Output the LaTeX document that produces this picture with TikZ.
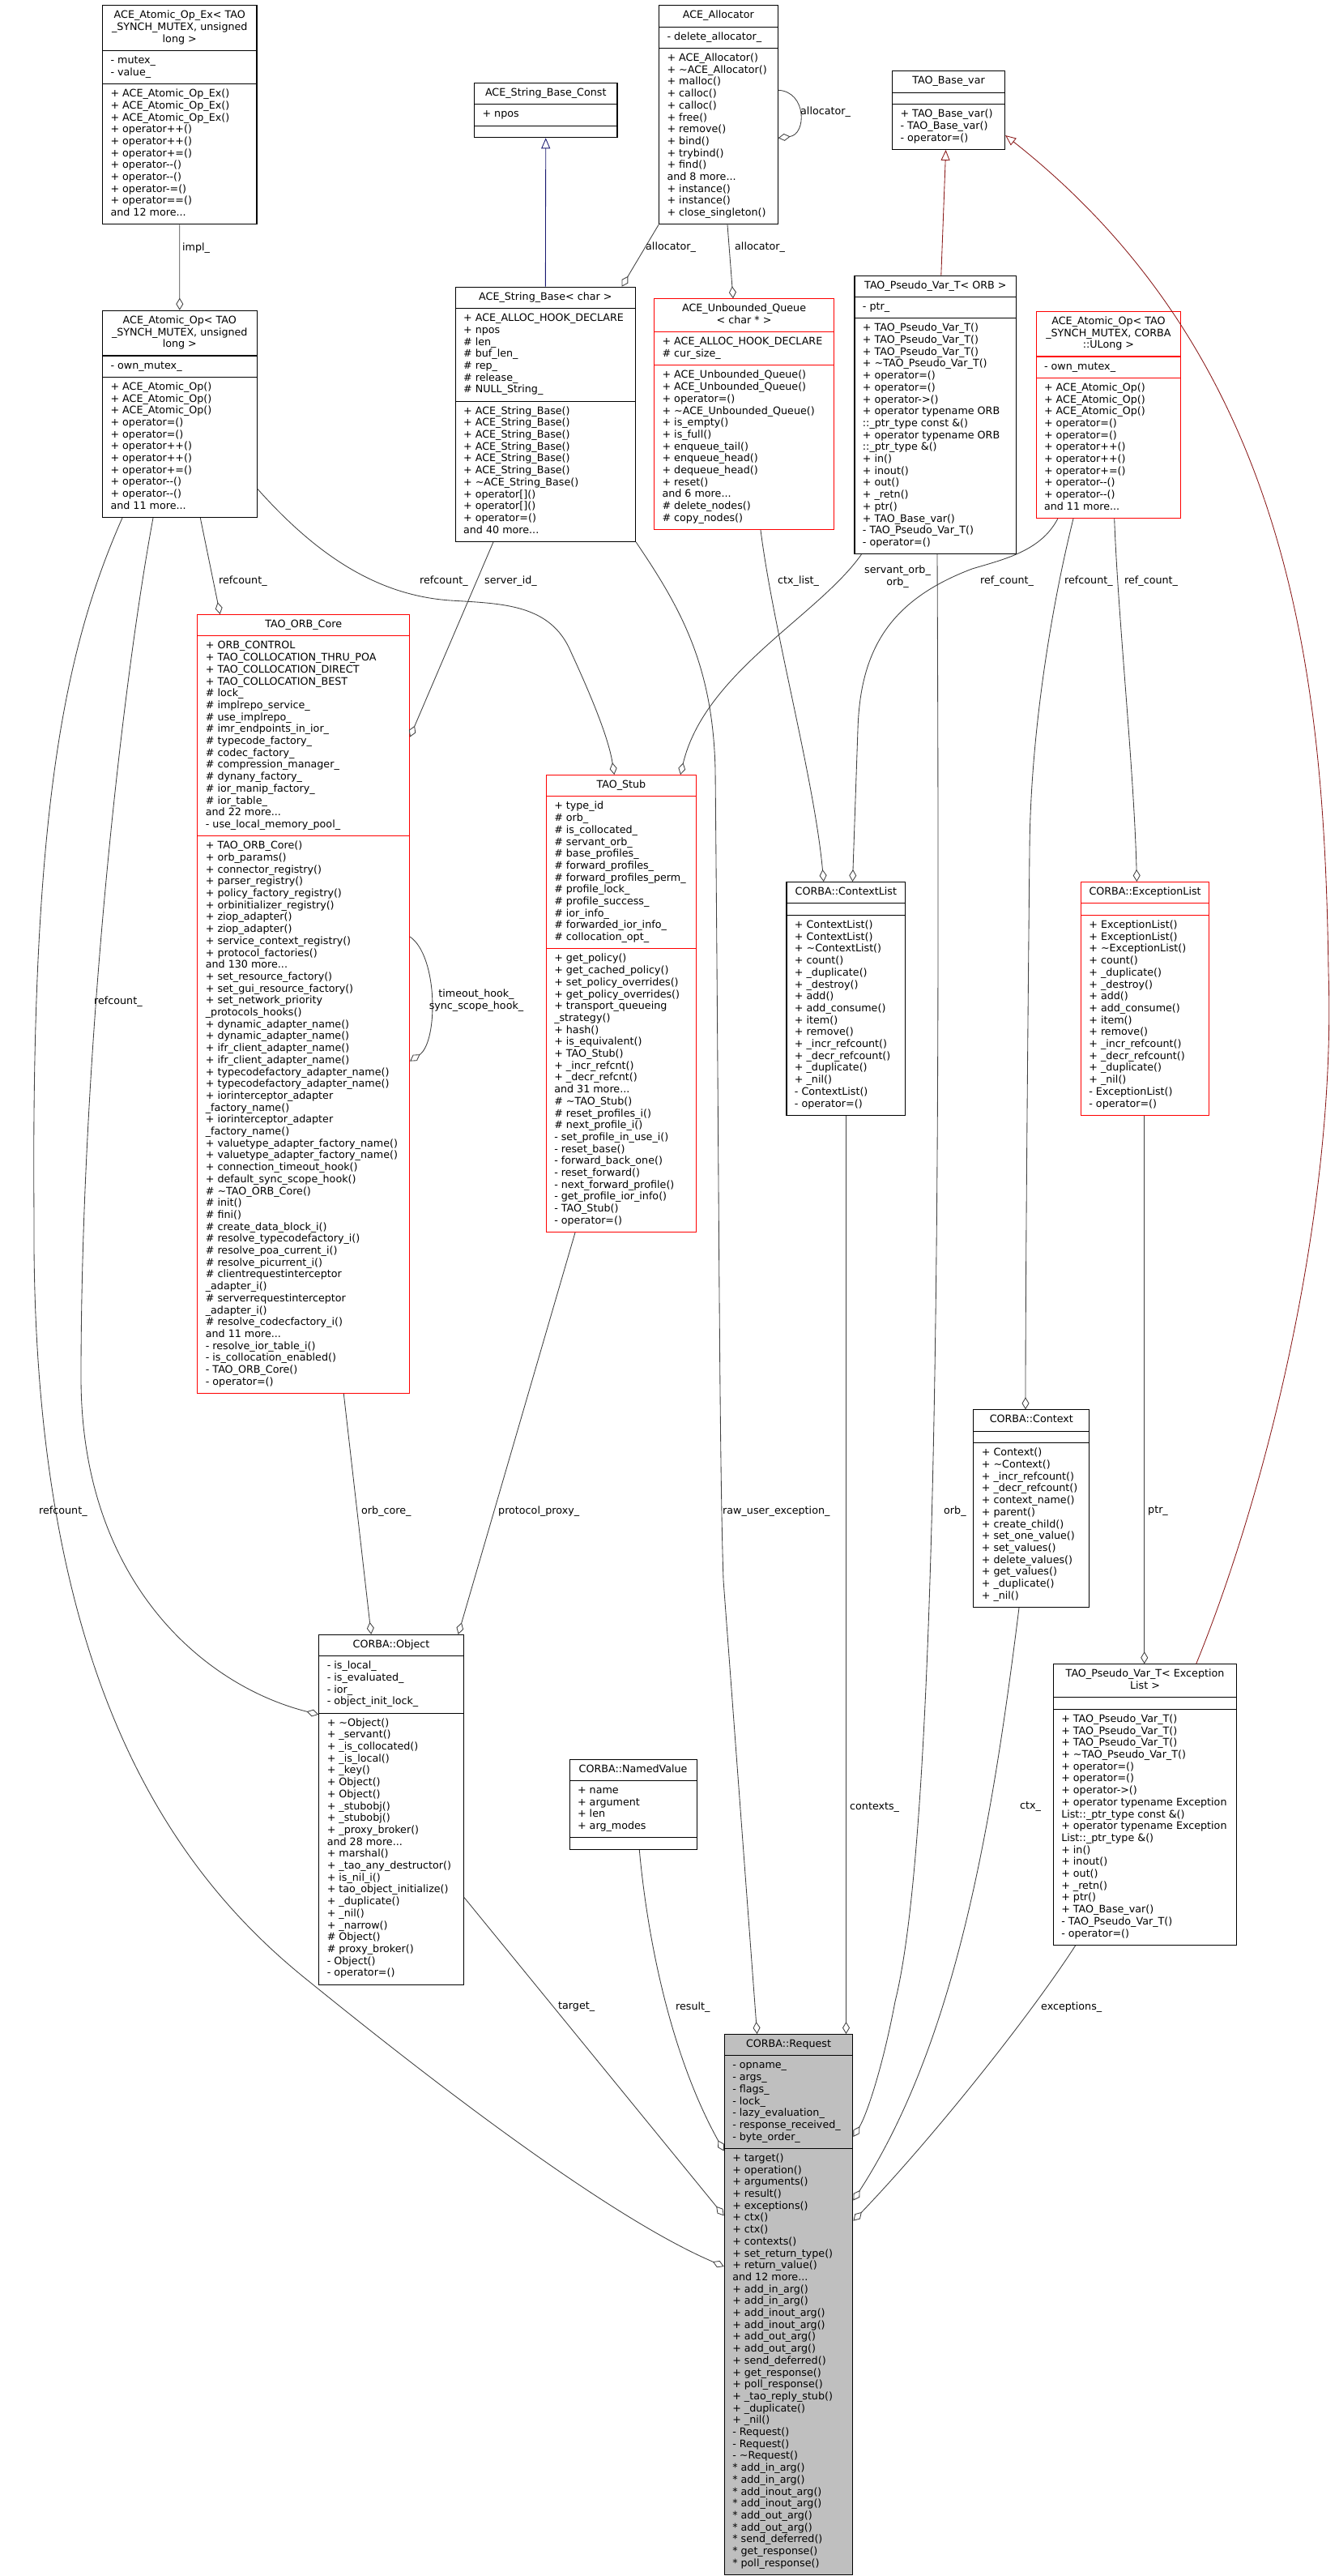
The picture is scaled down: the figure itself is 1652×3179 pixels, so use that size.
\documentclass[tikz,border=0pt]{standalone}
\usepackage{fontspec}
\setmainfont{DejaVu Sans}
\usetikzlibrary{arrows.meta,shapes.multipart,calc}

\definecolor{edgegray}{HTML}{404040}
\definecolor{inhblue}{HTML}{191970}
\definecolor{inhred}{HTML}{8B1A1A}

\newcommand{\clstitle}[1]{\begin{tabular}{@{}c@{}}#1\end{tabular}}
\newcommand{\clsrows}[1]{\begin{tabular}{@{}l@{}}#1\end{tabular}}

\begin{document}
\begin{tikzpicture}[
  x=1pt, y=-1pt,
  font=\fontsize{12.7}{14.7}\selectfont,
  cls/.style={rectangle split, rectangle split parts=3, rectangle split part align={center,left,left},
    draw=black, line width=1.1pt, fill=white, inner xsep=10pt, inner ysep=5.25pt, anchor=north west},
  clsred/.style={cls, draw=red},
  clsgray/.style={cls, fill=gray!50},
  aggr/.style={draw=edgegray, line width=0.85pt, -{Diamond[length=15pt,width=9pt,fill=white]}},
  inhb/.style={draw=inhblue, line width=0.85pt, -{Triangle[length=13pt,width=11pt,fill=white]}},
  inhr/.style={draw=inhred, line width=0.85pt, -{Triangle[length=13pt,width=11pt,fill=white]}},
  lbl/.style={inner sep=0pt, anchor=west}
]
\fill[white] (0,0) rectangle (1652,3179);
\useasboundingbox (0,0) rectangle (1652,3179);

\node[cls, minimum width=190.4pt] (atomicex) at (126,6.3) {\clstitle{ACE\_Atomic\_Op\_Ex< TAO\\\_SYNCH\_MUTEX, unsigned\\long >}
  \nodepart{two}\clsrows{- mutex\_\\- value\_}
  \nodepart{three}\clsrows{+ ACE\_Atomic\_Op\_Ex()\\+ ACE\_Atomic\_Op\_Ex()\\+ ACE\_Atomic\_Op\_Ex()\\+ operator++()\\+ operator++()\\+ operator+=()\\+ operator-{}-()\\+ operator-{}-()\\+ operator-=()\\+ operator==()\\and 12 more...}};
\node[cls, minimum width=146.6pt] (allocator) at (813,6.3) {\clstitle{ACE\_Allocator}
  \nodepart{two}\clsrows{- delete\_allocator\_}
  \nodepart{three}\clsrows{+ ACE\_Allocator()\\+ \textasciitilde ACE\_Allocator()\\+ malloc()\\+ calloc()\\+ calloc()\\+ free()\\+ remove()\\+ bind()\\+ trybind()\\+ find()\\and 8 more...\\+ instance()\\+ instance()\\+ close\_singleton()}};
\node[cls, minimum width=176.4pt] (strconst) at (585,102) {\clstitle{ACE\_String\_Base\_Const}
  \nodepart{two}\clsrows{+ npos}
  \nodepart{three}\clsrows{}};
\node[cls, minimum width=139pt] (basevar) at (1101,87.3) {\clstitle{TAO\_Base\_var}
  \nodepart{two}\clsrows{}
  \nodepart{three}\clsrows{+ TAO\_Base\_var()\\- TAO\_Base\_var()\\- operator=()}};
\node[cls, minimum width=190.5pt] (atomicul) at (126,382.7) {\clstitle{ACE\_Atomic\_Op< TAO\\\_SYNCH\_MUTEX, unsigned\\long >}
  \nodepart{two}\clsrows{- own\_mutex\_}
  \nodepart{three}\clsrows{+ ACE\_Atomic\_Op()\\+ ACE\_Atomic\_Op()\\+ ACE\_Atomic\_Op()\\+ operator=()\\+ operator=()\\+ operator++()\\+ operator++()\\+ operator+=()\\+ operator-{}-()\\+ operator-{}-()\\and 11 more...}};
\node[cls, minimum width=222.4pt] (strbase) at (561.6,353.7) {\clstitle{ACE\_String\_Base< char >}
  \nodepart{two}\clsrows{+ ACE\_ALLOC\_HOOK\_DECLARE\\+ npos\\\# len\_\\\# buf\_len\_\\\# rep\_\\\# release\_\\\# NULL\_String\_}
  \nodepart{three}\clsrows{+ ACE\_String\_Base()\\+ ACE\_String\_Base()\\+ ACE\_String\_Base()\\+ ACE\_String\_Base()\\+ ACE\_String\_Base()\\+ ACE\_String\_Base()\\+ \textasciitilde ACE\_String\_Base()\\+ operator[]()\\+ operator[]()\\+ operator=()\\and 40 more...}};
\node[clsred, minimum width=222pt] (uqueue) at (807,368.3) {\clstitle{ACE\_Unbounded\_Queue\\< char * >}
  \nodepart{two}\clsrows{+ ACE\_ALLOC\_HOOK\_DECLARE\\\# cur\_size\_}
  \nodepart{three}\clsrows{+ ACE\_Unbounded\_Queue()\\+ ACE\_Unbounded\_Queue()\\+ operator=()\\+ \textasciitilde ACE\_Unbounded\_Queue()\\+ is\_empty()\\+ is\_full()\\+ enqueue\_tail()\\+ enqueue\_head()\\+ dequeue\_head()\\+ reset()\\and 6 more...\\\# delete\_nodes()\\\# copy\_nodes()}};
\node[cls, minimum width=199.9pt] (pvarorb) at (1054.4,339.6) {\clstitle{TAO\_Pseudo\_Var\_T< ORB >}
  \nodepart{two}\clsrows{- ptr\_}
  \nodepart{three}\clsrows{+ TAO\_Pseudo\_Var\_T()\\+ TAO\_Pseudo\_Var\_T()\\+ TAO\_Pseudo\_Var\_T()\\+ \textasciitilde TAO\_Pseudo\_Var\_T()\\+ operator=()\\+ operator=()\\+ operator->()\\+ operator typename ORB\\::\_ptr\_type const \&()\\+ operator typename ORB\\::\_ptr\_type \&()\\+ in()\\+ inout()\\+ out()\\+ \_retn()\\+ ptr()\\+ TAO\_Base\_var()\\- TAO\_Pseudo\_Var\_T()\\- operator=()}};
\node[clsred, minimum width=178.8pt] (atomicull) at (1278.5,383.7) {\clstitle{ACE\_Atomic\_Op< TAO\\\_SYNCH\_MUTEX, CORBA\\::ULong >}
  \nodepart{two}\clsrows{- own\_mutex\_}
  \nodepart{three}\clsrows{+ ACE\_Atomic\_Op()\\+ ACE\_Atomic\_Op()\\+ ACE\_Atomic\_Op()\\+ operator=()\\+ operator=()\\+ operator++()\\+ operator++()\\+ operator+=()\\+ operator-{}-()\\+ operator-{}-()\\and 11 more...}};
\node[clsred, minimum width=261.7pt] (orbcore) at (243.3,758) {\clstitle{TAO\_ORB\_Core}
  \nodepart{two}\clsrows{+ ORB\_CONTROL\\+ TAO\_COLLOCATION\_THRU\_POA\\+ TAO\_COLLOCATION\_DIRECT\\+ TAO\_COLLOCATION\_BEST\\\# lock\_\\\# implrepo\_service\_\\\# use\_implrepo\_\\\# imr\_endpoints\_in\_ior\_\\\# typecode\_factory\_\\\# codec\_factory\_\\\# compression\_manager\_\\\# dynany\_factory\_\\\# ior\_manip\_factory\_\\\# ior\_table\_\\and 22 more...\\- use\_local\_memory\_pool\_}
  \nodepart{three}\clsrows{+ TAO\_ORB\_Core()\\+ orb\_params()\\+ connector\_registry()\\+ parser\_registry()\\+ policy\_factory\_registry()\\+ orbinitializer\_registry()\\+ ziop\_adapter()\\+ ziop\_adapter()\\+ service\_context\_registry()\\+ protocol\_factories()\\and 130 more...\\+ set\_resource\_factory()\\+ set\_gui\_resource\_factory()\\+ set\_network\_priority\\\_protocols\_hooks()\\+ dynamic\_adapter\_name()\\+ dynamic\_adapter\_name()\\+ ifr\_client\_adapter\_name()\\+ ifr\_client\_adapter\_name()\\+ typecodefactory\_adapter\_name()\\+ typecodefactory\_adapter\_name()\\+ iorinterceptor\_adapter\\\_factory\_name()\\+ iorinterceptor\_adapter\\\_factory\_name()\\+ valuetype\_adapter\_factory\_name()\\+ valuetype\_adapter\_factory\_name()\\+ connection\_timeout\_hook()\\+ default\_sync\_scope\_hook()\\\# \textasciitilde TAO\_ORB\_Core()\\\# init()\\\# fini()\\\# create\_data\_block\_i()\\\# resolve\_typecodefactory\_i()\\\# resolve\_poa\_current\_i()\\\# resolve\_picurrent\_i()\\\# clientrequestinterceptor\\\_adapter\_i()\\\# serverrequestinterceptor\\\_adapter\_i()\\\# resolve\_codecfactory\_i()\\and 11 more...\\- resolve\_ior\_table\_i()\\- is\_collocation\_enabled()\\- TAO\_ORB\_Core()\\- operator=()}};
\node[clsred, minimum width=185.3pt] (stub) at (673.7,956) {\clstitle{TAO\_Stub}
  \nodepart{two}\clsrows{+ type\_id\\\# orb\_\\\# is\_collocated\_\\\# servant\_orb\_\\\# base\_profiles\_\\\# forward\_profiles\_\\\# forward\_profiles\_perm\_\\\# profile\_lock\_\\\# profile\_success\_\\\# ior\_info\_\\\# forwarded\_ior\_info\_\\\# collocation\_opt\_}
  \nodepart{three}\clsrows{+ get\_policy()\\+ get\_cached\_policy()\\+ set\_policy\_overrides()\\+ get\_policy\_overrides()\\+ transport\_queueing\\\_strategy()\\+ hash()\\+ is\_equivalent()\\+ TAO\_Stub()\\+ \_incr\_refcnt()\\+ \_decr\_refcnt()\\and 31 more...\\\# \textasciitilde TAO\_Stub()\\\# reset\_profiles\_i()\\\# next\_profile\_i()\\- set\_profile\_in\_use\_i()\\- reset\_base()\\- forward\_back\_one()\\- reset\_forward()\\- next\_forward\_profile()\\- get\_profile\_ior\_info()\\- TAO\_Stub()\\- operator=()}};
\node[cls, minimum width=146.8pt] (ctxlist) at (970.4,1088) {\clstitle{CORBA::ContextList}
  \nodepart{two}\clsrows{}
  \nodepart{three}\clsrows{+ ContextList()\\+ ContextList()\\+ \textasciitilde ContextList()\\+ count()\\+ \_duplicate()\\+ \_destroy()\\+ add()\\+ add\_consume()\\+ item()\\+ remove()\\+ \_incr\_refcount()\\+ \_decr\_refcount()\\+ \_duplicate()\\+ \_nil()\\- ContextList()\\- operator=()}};
\node[clsred, minimum width=158.4pt] (exclist) at (1333.8,1088) {\clstitle{CORBA::ExceptionList}
  \nodepart{two}\clsrows{}
  \nodepart{three}\clsrows{+ ExceptionList()\\+ ExceptionList()\\+ \textasciitilde ExceptionList()\\+ count()\\+ \_duplicate()\\+ \_destroy()\\+ add()\\+ add\_consume()\\+ item()\\+ remove()\\+ \_incr\_refcount()\\+ \_decr\_refcount()\\+ \_duplicate()\\+ \_nil()\\- ExceptionList()\\- operator=()}};
\node[cls, minimum width=143pt] (context) at (1201.3,1739.3) {\clstitle{CORBA::Context}
  \nodepart{two}\clsrows{}
  \nodepart{three}\clsrows{+ Context()\\+ \textasciitilde Context()\\+ \_incr\_refcount()\\+ \_decr\_refcount()\\+ context\_name()\\+ parent()\\+ create\_child()\\+ set\_one\_value()\\+ set\_values()\\+ delete\_values()\\+ get\_values()\\+ \_duplicate()\\+ \_nil()}};
\node[cls, minimum width=178.6pt] (object) at (393.2,2016.8) {\clstitle{CORBA::Object}
  \nodepart{two}\clsrows{- is\_local\_\\- is\_evaluated\_\\- ior\_\\- object\_init\_lock\_}
  \nodepart{three}\clsrows{+ \textasciitilde Object()\\+ \_servant()\\+ \_is\_collocated()\\+ \_is\_local()\\+ \_key()\\+ Object()\\+ Object()\\+ \_stubobj()\\+ \_stubobj()\\+ \_proxy\_broker()\\and 28 more...\\+ marshal()\\+ \_tao\_any\_destructor()\\+ is\_nil\_i()\\+ tao\_object\_initialize()\\+ \_duplicate()\\+ \_nil()\\+ \_narrow()\\\# Object()\\\# proxy\_broker()\\- Object()\\- operator=()}};
\node[cls, minimum width=226.6pt] (pvarexc) at (1299.7,2053.2) {\clstitle{TAO\_Pseudo\_Var\_T< Exception\\List >}
  \nodepart{two}\clsrows{}
  \nodepart{three}\clsrows{+ TAO\_Pseudo\_Var\_T()\\+ TAO\_Pseudo\_Var\_T()\\+ TAO\_Pseudo\_Var\_T()\\+ \textasciitilde TAO\_Pseudo\_Var\_T()\\+ operator=()\\+ operator=()\\+ operator->()\\+ operator typename Exception\\List::\_ptr\_type const \&()\\+ operator typename Exception\\List::\_ptr\_type \&()\\+ in()\\+ inout()\\+ out()\\+ \_retn()\\+ ptr()\\+ TAO\_Base\_var()\\- TAO\_Pseudo\_Var\_T()\\- operator=()}};
\node[cls, minimum width=157.1pt] (namedval) at (702.5,2170.6) {\clstitle{CORBA::NamedValue}
  \nodepart{two}\clsrows{+ name\\+ argument\\+ len\\+ arg\_modes}
  \nodepart{three}\clsrows{}};
\node[clsgray, minimum width=158.6pt] (request) at (893.7,2510) {\clstitle{CORBA::Request}
  \nodepart{two}\clsrows{- opname\_\\- args\_\\- flags\_\\- lock\_\\- lazy\_evaluation\_\\- response\_received\_\\- byte\_order\_}
  \nodepart{three}\clsrows{+ target()\\+ operation()\\+ arguments()\\+ result()\\+ exceptions()\\+ ctx()\\+ ctx()\\+ contexts()\\+ set\_return\_type()\\+ return\_value()\\and 12 more...\\+ add\_in\_arg()\\+ add\_in\_arg()\\+ add\_inout\_arg()\\+ add\_inout\_arg()\\+ add\_out\_arg()\\+ add\_out\_arg()\\+ send\_deferred()\\+ get\_response()\\+ poll\_response()\\+ \_tao\_reply\_stub()\\+ \_duplicate()\\+ \_nil()\\- Request()\\- Request()\\- \textasciitilde Request()\\{*} add\_in\_arg()\\{*} add\_in\_arg()\\{*} add\_inout\_arg()\\{*} add\_inout\_arg()\\{*} add\_out\_arg()\\{*} add\_out\_arg()\\{*} send\_deferred()\\{*} get\_response()\\{*} poll\_response()}};

\draw[aggr] (atomicex.south) -- (atomicul.north);
\draw[inhb] (strbase.north) -- (strconst.south);
\draw[inhr] ($(pvarorb.north west)+(107.4,0)$) -- ($(basevar.south west)+(66.6,0)$);
\draw[inhr] ($(pvarexc.north west)+(177,0)$) .. controls (1560,1850) and (1650,1500) .. (1640,1200) .. controls (1635,850) and (1600,450) .. ($(basevar.north east)+(0,79.7)$);
\draw[aggr] ($(allocator.north east)+(0,105)$) .. controls (996,113) and (996,166) .. ($(allocator.north east)+(0,164)$);
\draw[aggr] (allocator.south west) -- ($(strbase.north east)+(-17.5,0)$);
\draw[aggr] ($(allocator.south west)+(85,0)$) -- ($(uqueue.north west)+(98,0)$);
\draw[aggr] ($(atomicul.south west)+(121.3,0)$) -- ($(orbcore.north west)+(28.4,0)$);
\draw[aggr] ($(atomicul.north east)+(0,220.3)$) .. controls (395,690) and (470,735) .. (556,741) .. controls (620,745) and (680,745) .. (705,805) .. controls (735,870) and (752,915) .. ($(stub.north west)+(84.6,0)$);
\draw[aggr] ($(atomicul.south west)+(63,0)$) .. controls (150,850) and (100,1300) .. (100,1700) .. controls (100,1950) and (250,2080) .. ($(object.north west)+(0,99)$);
\draw[aggr] ($(atomicul.south west)+(25,0)$) .. controls (80,800) and (38,1000) .. (42,1500) .. controls (38,2050) and (200,2300) .. (380,2444) .. controls (560,2590) and (760,2740) .. ($(request.north west)+(0,287)$);
\draw[aggr] ($(orbcore.north east)+(0,398)$) .. controls (541,1180) and (541,1286) .. ($(orbcore.north east)+(0,551.6)$);
\draw[aggr] ($(strbase.south west)+(47.4,0)$) -- ($(orbcore.north east)+(0,151.5)$);
\draw[aggr] ($(pvarorb.south west)+(9,0)$) .. controls (1010,760) and (870,830) .. ($(stub.north west)+(166.3,0)$);
\draw[aggr] ($(pvarorb.south west)+(102.6,0)$) .. controls (1160,1400) and (1160,2250) .. (1105,2470) .. controls (1090,2550) and (1070,2610) .. ($(request.north east)+(0,127)$);
\draw[aggr] ($(uqueue.south west)+(132,0)$) .. controls (955,780) and (1005,960) .. ($(ctxlist.north west)+(46.4,0)$);
\draw[aggr] ($(atomicull.south west)+(27.3,0)$) .. controls (1285,680) and (1240,690) .. (1200,702) .. controls (1100,740) and (1062,800) .. (1059,900) -- ($(ctxlist.north west)+(82.1,0)$);
\draw[aggr] ($(atomicull.south west)+(46.5,0)$) .. controls (1300,740) and (1272,900) .. (1271,1050) .. controls (1268,1350) and (1266,1600) .. ($(context.north west)+(64.7,0)$);
\draw[aggr] ($(atomicull.south west)+(97.2,0)$) .. controls (1380,760) and (1400,950) .. ($(exclist.north west)+(69.6,0)$);
\draw[aggr] ($(ctxlist.south west)+(74.1,0)$) -- ($(request.north west)+(150.8,0)$);
\draw[aggr] ($(exclist.south west)+(78.9,0)$) -- ($(pvarexc.north west)+(113,0)$);
\draw[aggr] ($(context.south west)+(56.7,0)$) .. controls (1225,2250) and (1180,2520) .. ($(request.north east)+(0,205.5)$);
\draw[aggr] ($(pvarexc.south west)+(28,0)$) .. controls (1270,2490) and (1150,2640) .. ($(request.north east)+(0,230.7)$);
\draw[aggr] ($(orbcore.south west)+(181,0)$) -- ($(object.north west)+(65,0)$);
\draw[aggr] ($(stub.south west)+(36.3,0)$) -- ($(object.north west)+(172.5,0)$);
\draw[aggr] (strbase.south east) .. controls (840,750) and (880,820) .. (883,950) .. controls (888,1500) and (888,1800) .. (893,1950) -- ($(request.north west)+(40.9,0)$);
\draw[aggr] ($(namedval.south west)+(86.8,0)$) .. controls (800,2400) and (830,2540) .. ($(request.north west)+(0,144.5)$);
\draw[aggr] ($(object.north east)+(0,324.7)$) -- ($(request.north west)+(0,224.4)$);

\node[lbl] (lImpl) at (225,305.7) {impl\_};
\node[lbl] (lAllocSelf) at (988,138) {allocator\_};
\node[lbl] (lAllocStr) at (797,305) {allocator\_};
\node[lbl] (lAllocQue) at (907,305) {allocator\_};
\node[lbl] (lRefCore) at (270,717) {refcount\_};
\node[lbl] (lRefStub) at (518,717) {refcount\_};
\node[lbl] (lServerId) at (598,717) {server\_id\_};
\node[lbl] (lCtxList) at (960,717) {ctx\_list\_};
\node[lbl, align=center, anchor=center] (lServant) at (1108,712) {servant\_orb\_\\orb\_};
\node[lbl] (lRefCtxList) at (1210,717) {ref\_count\_};
\node[lbl] (lRefCtx) at (1314,717) {refcount\_};
\node[lbl] (lRefExc) at (1388,717) {ref\_count\_};
\node[lbl, align=center, anchor=center] (lHooks) at (588,1235) {timeout\_hook\_\\sync\_scope\_hook\_};
\node[lbl] (lRefObj) at (116,1236) {refcount\_};
\node[lbl] (lRefReq) at (48,1865) {refcount\_};
\node[lbl] (lOrbCore) at (446,1865) {orb\_core\_};
\node[lbl] (lProxy) at (615,1865) {protocol\_proxy\_};
\node[lbl] (lRawExc) at (892,1865) {raw\_user\_exception\_};
\node[lbl] (lOrb) at (1165,1865) {orb\_};
\node[lbl] (lPtr) at (1417,1865) {ptr\_};
\node[lbl] (lContexts) at (1049,2231) {contexts\_};
\node[lbl] (lCtx) at (1259,2230) {ctx\_};
\node[lbl] (lTarget) at (689,2477) {target\_};
\node[lbl] (lResult) at (834,2477) {result\_};
\node[lbl] (lExc) at (1285,2477) {exceptions\_};

\end{tikzpicture}
\end{document}
